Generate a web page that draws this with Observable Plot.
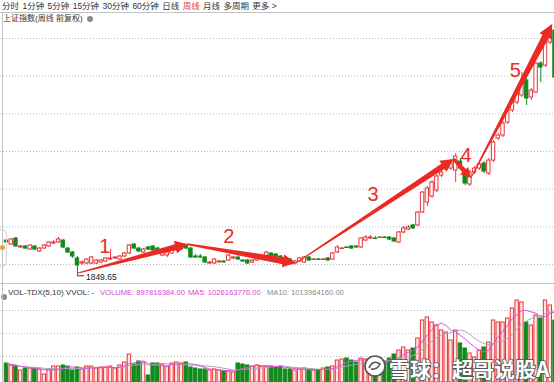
<!DOCTYPE html>
<html><head><meta charset="utf-8">
<script src="https://cdn.jsdelivr.net/npm/d3@7"></script>
<script src="https://cdn.jsdelivr.net/npm/@observablehq/plot@0.6"></script>
<style>
html,body{margin:0;padding:0;background:#fff;}
#wrap{position:relative;width:554px;height:382px;overflow:hidden;background:#fff;font-family:"Liberation Sans",Arial,"Noto Sans CJK SC",sans-serif;}
.abs{position:absolute;}
#tool{left:2px;top:1px;font-size:8.5px;line-height:10px;color:#333;white-space:nowrap;font-family:"Liberation Sans","Noto Sans CJK SC",sans-serif;}
#tool span{margin-right:3.4px}
#title{left:3px;top:14px;font-size:8px;line-height:10px;color:#333;white-space:nowrap;font-family:"Liberation Sans","Noto Sans CJK SC",sans-serif;}
.dot{display:inline-block;width:6px;height:6px;border-radius:50%;background:#8a8a8a;vertical-align:-0.5px;margin-left:4px}
.vh{position:absolute;top:288px;line-height:10px;white-space:nowrap}
.hl{position:absolute;left:0;width:554px;height:0;border-top:1px solid #c4c4c4}
.vl{position:absolute;top:12px;left:2px;height:370px;width:0;border-left:1px solid #c4c4c4}
</style></head>
<body>
<div id="wrap">
  <div id="tool" class="abs"><span>分时</span><span>1分钟</span><span>5分钟</span><span>15分钟</span><span>30分钟</span><span>60分钟</span><span>日线</span><span style="color:#e8383a">周线</span><span>月线</span><span>多周期</span><span>更多 &gt;</span></div>
  <div class="hl" style="top:12px"></div>
  <div id="title" class="abs">上证指数(周线 前复权)<span class="dot"></span></div>
  <div id="price" class="abs" style="left:0;top:0"></div>
  <div class="hl" style="top:283px"></div>
  <div id="vol" class="abs" style="left:0;top:283px"></div>
  <div class="vh" style="left:1px;top:289px"><span class="dot" style="margin-left:0"></span></div>
  <div class="vh" style="left:8px;font-size:8px;color:#333">VOL-TDX(5,10) VVOL: -</div>
  <div class="vh" style="left:100px;font-size:7.6px;color:#d048d0">VOLUME: 897816384.00</div>
  <div class="vh" style="left:188px;font-size:7.6px;color:#d048d0">MA5: 1026163776.00</div>
  <div class="vh" style="left:267px;font-size:7.6px;color:#8a8a8a">MA10: 1013964160.00</div>
  <div class="vl"></div>
  <div class="abs" style="left:0;top:229px;width:6px;height:36px;border:1px solid #d0d0d0;border-left:none;border-radius:0 6px 6px 0"></div>
  <div class="abs" style="left:0;top:245px;width:5px;height:5px;border-radius:50%;background:#f0a030"></div>
  <svg class="abs" style="left:356px;top:344px" width="198" height="38">
    <circle cx="19" cy="22" r="10" fill="#fff" stroke="#555" stroke-width="1.6"/>
    <path d="M13 24 q4 -9 11 -4 q-3 6 -9 5" fill="none" stroke="#555" stroke-width="1.6"/>
    <text x="33" y="33" font-size="21" font-weight="bold" fill="#fff" stroke="#555" stroke-width="1.6" paint-order="stroke" font-family="Noto Sans CJK SC, sans-serif">雪球：超哥说股A</text>
  </svg>
</div>
<script>
// ---- data (Shanghai Composite, weekly, forward-adjusted) ----
const open  = [2318,2265,2345,2226,2239,2199,2239,2173,2212,2239, 2279,2292,2318,2212,2159,2080,2013,2013,2013,2013,
               2027,2040,2066,2080,2066,2106,2146,2265,2212,2159, 2226,2239,2212,2119,2119,2146,2186,2199,2252,2212,
               2106,2106,2093,2013,2013,2027,2040,2053,2080,2093, 2053,2053,2027,2053,2080,2106,2146,2133,2106,2080,
               2066,2013,2040,2027,2093,2060,2066,2060,2080,2066, 2159,2206,2226,2239,2239,2226,2318,2345,2345,2352,
               2358,2358,2345,2292,2425,2464,2518,2518,2690,2823, 2902,2982,3181,3261,3274,3247,3367,3221,3062,3221,
               3274,3340,3208,3380,3672,3712,3884,4044,4150,4243, 4442,4216,4282,4667,4641,4946,5105];
const high  = [2358,2345,2358,2252,2252,2265,2252,2226,2265,2305, 2318,2358,2332,2226,2173,2106,2053,2080,2106,2066,
               2066,2093,2199,2106,2119,2159,2265,2279,2226,2212, 2239,2252,2226,2173,2173,2199,2226,2252,2265,2226,
               2133,2133,2106,2040,2080,2053,2053,2133,2106,2133, 2066,2066,2066,2093,2119,2173,2159,2146,2119,2093,
               2080,2053,2093,2106,2106,2080,2080,2080,2093,2159, 2252,2226,2239,2252,2252,2358,2385,2385,2372,2372,
               2372,2372,2358,2438,2504,2518,2531,2703,2969,3035, 3115,3194,3247,3354,3393,3473,3407,3247,3247,3300,
               3354,3367,3407,3645,3738,3898,4070,4203,4309,4548, 4468,4336,4681,4694,5079,5172,5132];
const low   = [2279,2252,2226,2212,2199,2186,2186,2159,2199,2226, 2265,2279,2212,2146,2080,1849.65,1987,2000,2000,2000,
               2013,2027,2053,2066,2053,2093,2133,2199,2159,2146, 2186,2173,2146,2106,2093,2133,2173,2186,2199,2080,
               2080,2080,2013,2000,2000,2020,2020,2040,2066,2053, 2027,2000,2013,2040,2066,2093,2093,2093,2066,2027,
               2013,1993,2027,2013,2040,2053,2053,2053,2040,2053, 2146,2199,2212,2199,2212,2212,2305,2332,2332,2345,
               2345,2318,2292,2279,2411,2451,2464,2504,2677,2770, 2876,2955,3154,3234,3247,3088,3247,3048,3035,3194,
               3247,3208,3181,3354,3645,3685,3858,4017,4123,4216, 4110,4176,4269,4415,4614,4919,4468];
const close = [2292,2332,2239,2239,2212,2252,2199,2212,2252,2292, 2292,2332,2226,2159,2106,1987,2027,2066,2093,2053,
               2053,2080,2080,2093,2106,2146,2252,2212,2173,2199, 2199,2186,2159,2159,2159,2186,2212,2239,2212,2093,
               2093,2093,2027,2027,2066,2040,2027,2119,2093,2066, 2040,2013,2053,2080,2106,2159,2106,2106,2080,2040,
               2027,2040,2080,2093,2053,2066,2060,2066,2053,2146, 2226,2212,2219,2212,2226,2345,2358,2358,2338,2358,
               2352,2332,2305,2425,2478,2491,2478,2690,2955,3008, 3088,3168,3221,3314,3354,3433,3274,3075,3221,3274,
               3327,3234,3380,3619,3712,3871,4044,4176,4282,4415, 4203,4309,4667,4614,5065,5132,4481];
// weekly volume, millions
const volume = [276,247,232,174,203,203,203,189,116,189, 232,232,247,232,174,218,189,232,232,203,
                218,218,232,203,247,290,406,261,305,290, 102,276,276,261,232,276,290,276,290,218,
                203,189,189,174,189,174,160,160,145,276, 261,247,232,247,232,232,232,218,232,189,
                189,174,189,203,189,174,174,203,218,232, 319,334,348,319,290,348,334,319,319,290,
                290,348,406,464,508,464,493,638,899,943, 870,827,754,725,609,754,566,493,421,363,
                464,508,580,899,870,870,928,1073,1189,1160, 870,827,972,928,1189,1117,897.816384];
const priceGrid = [2000,2500,3000,3500,4000,4500,5000];
const volGrid = [377,710,1044];
const lowMark = [{i:15, p:1849.65}];
// trend arrows: [week index, price] from -> to
const trendFrom = [[15.25,1881],[38.3,2265],[61.3,2013],[94.7,3393],[98.3,3141]];
const trendTo   = [[38.3,2265],[61.3,2013],[94.7,3393],[98.3,3141],[115.5,5185]];
const trendLabel = ["1","2","3","4","5"];
const labelAt = [[20.8,2232],[47.0,2365],[77.5,2922],[97.2,3440],[107.6,4568]];

// ---- styles ----
const RED = "#e8343a", GREEN = "#138a1c", ARROW = "#ec2a24";
const BW = 0.36;
const arrowShape = [ // tail width, shaft width, head width, head length (px)
  {w0:0.9, w1:6, hw:13, hl:12},
  {w0:1.8, w1:7, hw:13, hl:13},
  {w0:0.9, w1:6, hw:13, hl:13},
  {w0:3, w1:5, hw:11, hl:10},
  {w0:0.9, w1:7, hw:14, hl:14}
];

const weeks = d3.range(open.length).map(i => ({
  i, open: open[i], high: high[i], low: low[i], close: close[i], vol: volume[i], up: close[i] >= open[i]
}));
const arrows = trendFrom.map((f, k) => ({from: f, to: trendTo[k], ...arrowShape[k]}));
const labels = trendLabel.map((t, k) => ({t, i: labelAt[k][0], p: labelAt[k][1]}));

function arrowMark(index, scales) {
  const ns = "http://www.w3.org/2000/svg";
  const g = document.createElementNS(ns, "g");
  for (const a of arrows) {
    const x1 = scales.x(a.from[0]), y1 = scales.y(a.from[1]);
    const x2 = scales.x(a.to[0]), y2 = scales.y(a.to[1]);
    const dx = x2 - x1, dy = y2 - y1, L = Math.hypot(dx, dy);
    const ux = dx / L, uy = dy / L, nx = -uy, ny = ux;
    const bx = x2 - ux * a.hl, by = y2 - uy * a.hl;
    const pts = [
      [x1 + nx * a.w0 / 2, y1 + ny * a.w0 / 2],
      [bx + nx * a.w1 / 2, by + ny * a.w1 / 2],
      [bx + nx * a.hw / 2, by + ny * a.hw / 2],
      [x2, y2],
      [bx - nx * a.hw / 2, by - ny * a.hw / 2],
      [bx - nx * a.w1 / 2, by - ny * a.w1 / 2],
      [x1 - nx * a.w0 / 2, y1 - ny * a.w0 / 2]
    ];
    const p = document.createElementNS(ns, "polygon");
    p.setAttribute("points", pts.map(d => d.map(v => v.toFixed(2)).join(",")).join(" "));
    p.setAttribute("fill", ARROW);
    g.appendChild(p);
  }
  return g;
}

const xScale = {type: "linear", domain: [0, 116], range: [6, 554.5], axis: null};

const price = Plot.plot({
  width: 554, height: 283, margin: 0,
  style: {background: "transparent", fontFamily: "Liberation Sans, Arial, sans-serif", overflow: "hidden"},
  x: xScale,
  y: {type: "linear", domain: [2000, 5000], range: [264, 38], axis: null},
  marks: [
    Plot.ruleY(priceGrid, {stroke: "#bdbdbd", strokeDasharray: "1,2"}),
    Plot.ruleX(weeks, {x: "i", y1: "low", y2: "high", stroke: d => d.up ? RED : GREEN, strokeWidth: 1}),
    Plot.rect(weeks, {x1: d => d.i - BW, x2: d => d.i + BW, y1: "open", y2: "close",
      fill: d => d.up ? "white" : GREEN, stroke: d => d.up ? RED : GREEN, strokeWidth: 1}),
    Plot.ruleY(lowMark, {y: "p", x1: d => d.i, x2: d => d.i + 1.5, stroke: "#333"}),
    Plot.text(lowMark, {x: "i", y: "p", text: d => d.p.toFixed(2), dx: 8.5, dy: 1, textAnchor: "start", fontSize: 8.5, fill: "#222"}),
    arrowMark,
    Plot.text(labels, {x: "i", y: "p", text: "t", fill: ARROW, fontSize: 20})
  ]
});
document.getElementById("price").appendChild(price);

const vol = Plot.plot({
  width: 554, height: 99, margin: 0,
  style: {background: "transparent", overflow: "hidden"},
  x: xScale,
  y: {type: "linear", domain: [0, 1000], range: [99, 99 - 1000 / 14.5], axis: null},
  marks: [
    Plot.ruleY(volGrid, {stroke: "#bdbdbd", strokeDasharray: "1,2"}),
    Plot.rect(weeks, {x1: d => d.i - BW, x2: d => d.i + BW, y1: d => 0, y2: "vol",
      fill: d => d.up ? "#fde8e8" : GREEN, stroke: d => d.up ? RED : GREEN, strokeWidth: 1}),
    Plot.lineY(weeks, Plot.windowY({k: 10, anchor: "end"}, {x: "i", y: "vol", stroke: "#a8a4c4", strokeWidth: 1})),
    Plot.lineY(weeks, Plot.windowY({k: 5, anchor: "end"}, {x: "i", y: "vol", stroke: "#d94fd9", strokeWidth: 1}))
  ]
});
document.getElementById("vol").appendChild(vol);
</script>
</body></html>
